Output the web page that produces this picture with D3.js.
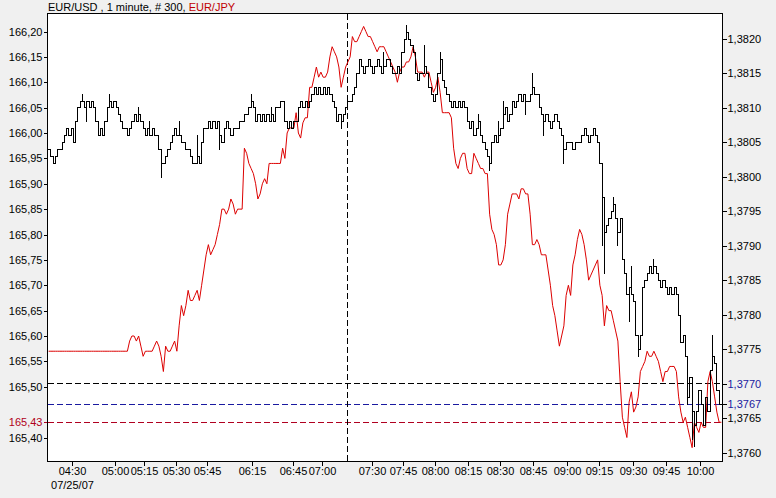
<!DOCTYPE html>
<html><head><meta charset="utf-8">
<script src="https://cdn.jsdelivr.net/npm/d3@7"></script>
<style>
html,body{margin:0;padding:0;background:#f0f0f0;}
svg{display:block;font-family:Arial,"Liberation Sans",sans-serif;font-size:11px;}
</style></head>
<body><svg id="chart" width="776" height="498"></svg>
<script>
// EUR/USD 1-minute closes (right axis), 300 bars
const usdClose = [
1.3804,1.3803,1.3802,1.3803,1.3804,1.3804,1.3805,1.3806,1.3807,1.3806,
1.3807,1.3805,1.3808,1.3810,1.3811,1.3811,1.3810,1.3811,1.3810,1.3811,
1.3810,1.3808,1.3806,1.3807,1.3806,1.3808,1.3810,1.3811,1.3810,1.3811,
1.3810,1.3809,1.3808,1.3807,1.3807,1.3806,1.3807,1.3808,1.3809,1.3808,
1.3809,1.3808,1.3807,1.3806,1.3807,1.3806,1.3807,1.3806,1.3806,1.3804,
1.3802,1.3802,1.3803,1.3804,1.3805,1.3806,1.3807,1.3806,1.3806,1.3805,
1.3805,1.3804,1.3804,1.3803,1.3802,1.3802,1.3803,1.3802,1.3805,1.3807,
1.3807,1.3808,1.3807,1.3808,1.3807,1.3808,1.3806,1.3805,1.3807,1.3808,
1.3807,1.3806,1.3807,1.3807,1.3807,1.3808,1.3808,1.3809,1.3809,1.3810,
1.3811,1.3810,1.3808,1.3809,1.3808,1.3809,1.3808,1.3809,1.3808,1.3809,
1.3808,1.3810,1.3810,1.3811,1.3811,1.3808,1.3807,1.3808,1.3807,1.3808,
1.3808,1.3810,1.3811,1.3810,1.3811,1.3810,1.3811,1.3812,1.3813,1.3812,
1.3813,1.3812,1.3813,1.3812,1.3813,1.3812,1.3811,1.3810,1.3808,1.3809,
1.3808,1.3809,1.3810,1.3811,1.3811,1.3812,1.3813,1.3815,1.3817,1.3816,
1.3815,1.3816,1.3817,1.3816,1.3815,1.3816,1.3817,1.3816,1.3815,1.3816,
1.3817,1.3817,1.3816,1.3815,1.3815,1.3816,1.3815,1.3818,1.3820,1.3821,
1.3820,1.3819,1.3818,1.3815,1.3814,1.3815,1.3815,1.3816,1.3815,1.3813,
1.3812,1.3811,1.3812,1.3815,1.3817,1.3814,1.3813,1.3812,1.3811,1.3810,
1.3811,1.3810,1.3811,1.3810,1.3811,1.3810,1.3808,1.3807,1.3808,1.3806,
1.3807,1.3808,1.3806,1.3805,1.3804,1.3803,1.3802,1.3805,1.3806,1.3805,
1.3806,1.3807,1.3809,1.3810,1.3808,1.3809,1.3811,1.3810,1.3811,1.3812,
1.3811,1.3812,1.3811,1.3811,1.3812,1.3813,1.3812,1.3812,1.3810,1.3809,
1.3808,1.3809,1.3808,1.3807,1.3808,1.3809,1.3808,1.3807,1.3806,1.3804,
1.3805,1.3805,1.3805,1.3804,1.3805,1.3805,1.3805,1.3806,1.3807,1.3806,
1.3805,1.3806,1.3807,1.3806,1.3805,1.3802,1.3797,1.3792,1.3793,1.3794,
1.3795,1.3796,1.3794,1.3792,1.3794,1.3788,1.3786,1.3783,1.3784,1.3783,
1.3782,1.3777,1.3775,1.3777,1.3784,1.3785,1.3786,1.3787,1.3786,1.3787,
1.3786,1.3785,1.3784,1.3785,1.3784,1.3783,1.3784,1.3783,1.3784,1.3783,
1.3780,1.3776,1.3777,1.3774,1.3768,1.3771,1.3766,1.3764,1.3766,1.3769,
1.3767,1.3764,1.3768,1.3766,1.3772,1.3774,1.3773,1.3769,1.3767,1.3767
];
// EUR/USD bars whose high/low reach beyond open/close: [bar, extreme]
const usdWicks = [
[15,1.3812],[17,1.3808],[27,1.3812],[40,1.3810],[45,1.3808],[50,1.3800],[58,1.3808],
[66,1.3806],[76,1.3804],[90,1.3812],[99,1.3810],[130,1.3807],[149,1.3818],[159,1.3822],
[167,1.3819],[174,1.3818],[191,1.3809],[196,1.3801],[200,1.3808],[202,1.3811],[212,1.3809],
[215,1.3815],[220,1.3806],[229,1.3802],[246,1.3790],[247,1.3786],[251,1.3797],[253,1.3790],
[258,1.3779],[259,1.3787],[262,1.3774],[269,1.3788],[284,1.3767],[286,1.3762],[287,1.3761],
[295,1.3777]
];
// EUR/JPY 1-minute closes (left axis), 300 bars
const jpyClose = [
165.57,165.57,165.57,165.57,165.57,165.57,165.57,165.57,165.57,165.57,
165.57,165.57,165.57,165.57,165.57,165.57,165.57,165.57,165.57,165.57,
165.57,165.57,165.57,165.57,165.57,165.57,165.57,165.57,165.57,165.57,
165.57,165.57,165.57,165.57,165.57,165.57,165.59,165.60,165.60,165.59,
165.60,165.58,165.56,165.57,165.57,165.57,165.57,165.58,165.59,165.58,
165.56,165.53,165.58,165.57,165.57,165.58,165.59,165.57,165.62,165.66,
165.64,165.66,165.69,165.67,165.67,165.68,165.69,165.67,165.70,165.73,
165.76,165.78,165.76,165.77,165.78,165.80,165.82,165.85,165.85,165.84,
165.85,165.87,165.86,165.84,165.85,165.85,165.85,165.97,165.96,165.94,
165.93,165.92,165.90,165.87,165.88,165.90,165.91,165.90,165.94,165.94,
165.94,165.94,165.94,165.94,165.97,165.95,166.00,166.01,166.01,166.01,
166.04,166.00,165.99,166.02,166.03,166.03,166.09,166.09,166.11,166.13,
166.11,166.12,166.11,166.11,166.12,166.15,166.17,166.16,166.15,166.13,
166.09,166.11,166.13,166.14,166.15,166.19,166.18,166.18,166.19,166.20,
166.21,166.20,166.19,166.19,166.18,166.17,166.16,166.17,166.17,166.17,
166.16,166.15,166.14,166.13,166.12,166.10,166.12,166.13,166.13,166.14,
166.14,166.15,166.17,166.15,166.12,166.12,166.12,166.11,166.12,166.12,
166.10,166.08,166.09,166.11,166.08,166.04,166.04,166.04,166.04,166.03,
165.97,165.94,165.93,165.95,165.96,165.96,165.93,165.92,165.92,165.96,
165.95,165.94,165.93,165.93,165.92,165.92,165.84,165.81,165.80,165.78,
165.74,165.74,165.75,165.78,165.84,165.86,165.88,165.88,165.88,165.87,
165.89,165.89,165.88,165.88,165.84,165.78,165.78,165.79,165.78,165.76,
165.76,165.76,165.73,165.70,165.66,165.64,165.61,165.58,165.60,165.62,
165.68,165.70,165.68,165.74,165.76,165.79,165.81,165.80,165.78,165.75,
165.71,165.72,165.73,165.74,165.75,165.70,165.68,165.62,165.66,165.65,
165.65,165.63,165.61,165.59,165.51,165.44,165.42,165.40,165.47,165.49,
165.45,165.46,165.48,165.53,165.54,165.55,165.57,165.56,165.56,165.57,
165.56,165.55,165.53,165.51,165.53,165.53,165.54,165.54,165.54,165.53,
165.48,165.45,165.43,165.44,165.42,165.40,165.38,165.43,165.42,165.41,
165.43,165.42,165.42,165.51,165.53,165.51,165.48,165.45,165.43,165.43
];
const timeTickBars = [11,30,43,57,71,91,109,122,144,158,172,187,201,216,231,245,260,275,290];
const timeTickLabels = ["04:30","05:00","05:15","05:30","05:45","06:15","06:45","07:00","07:30","07:45","08:00","08:15","08:30","08:45","09:00","09:15","09:30","09:45","10:00"];
const dateLabel = "07/25/07";
const leftTicks = [165.40,165.50,165.55,165.60,165.65,165.70,165.75,165.80,165.85,165.90,165.95,166.00,166.05,166.10,166.15,166.20];
const rightTicks = [1.3760,1.3765,1.3770,1.3775,1.3780,1.3785,1.3790,1.3795,1.3800,1.3805,1.3810,1.3815,1.3820];
const jpyLast = 165.43;
const usdLast = 1.3767;
const usdLevel = 1.3770;
const sessionBar = 133;

const svg = d3.select("#chart");
const L = 47.5, R = 722.5, T = 13.5, B = 461.5;
const x = d3.scaleLinear().domain([0, 300]).range([L, R]);
const yL = d3.scaleLinear().domain([165.40, 166.20]).range([437.5, 31.5]);
const yR = d3.scaleLinear().domain([1.3760, 1.3820]).range([452.5, 38.5]);

svg.append("rect").attr("width",776).attr("height",498).attr("fill","#f0f0f0");
svg.append("rect").attr("x",L).attr("y",T).attr("width",R-L).attr("height",B-T).attr("fill","#fff");

// title
const title = svg.append("text").attr("x",48).attr("y",11).attr("fill","#000");
title.append("tspan").text("EUR/USD , 1 minute, # 300, ");
title.append("tspan").attr("fill","#c00000").text("EUR/JPY");

// axes
const comma = f => v => d3.format(f)(v).replace(".", ",");
const gL = svg.append("g").attr("transform",`translate(${L},0)`)
  .call(d3.axisLeft(yL).tickValues(leftTicks).tickFormat(comma(".2f")).tickSize(4).tickSizeOuter(0).tickPadding(1));
const gL2 = svg.append("g").attr("transform",`translate(${L},0)`)
  .call(d3.axisLeft(yL).tickValues([jpyLast]).tickFormat(comma(".2f")).tickSize(4).tickSizeOuter(0).tickPadding(1));
gL2.selectAll("text").attr("fill","#b00020");
gL2.selectAll("line").attr("stroke","#b00020");
const gR = svg.append("g").attr("transform",`translate(${R},0)`)
  .call(d3.axisRight(yR).tickValues(rightTicks).tickFormat(comma(".4f")).tickSize(4).tickSizeOuter(0).tickPadding(1));
gR.selectAll(".tick").filter(d => Math.abs(d-usdLevel)<1e-7).select("text").attr("fill","#1a1aa0");
const gR2 = svg.append("g").attr("transform",`translate(${R},0)`)
  .call(d3.axisRight(yR).tickValues([usdLast]).tickFormat(comma(".4f")).tickSize(4).tickSizeOuter(0).tickPadding(1));
gR2.selectAll("text").attr("fill","#1a1aa0");
const gB = svg.append("g").attr("transform",`translate(0,${B})`)
  .call(d3.axisBottom(x).tickValues(timeTickBars).tickFormat((d,i)=>timeTickLabels[i]).tickSize(4).tickSizeOuter(0).tickPadding(2));
gB.selectAll(".tick").attr("transform", d => `translate(${Math.round(x(d))+0.5},0)`);
[gL,gL2,gR,gR2,gB].forEach(g => {
  g.select(".domain").remove();
  g.selectAll("text").style("font-family","Arial, 'Liberation Sans', sans-serif").style("font-size","11px");
  g.selectAll("line").attr("shape-rendering","crispEdges");
});
svg.append("text").attr("x", Math.round(x(timeTickBars[0]))+0.5).attr("y",489).attr("text-anchor","middle").text(dateLabel);

// clip
svg.append("clipPath").attr("id","clip").append("rect").attr("x",L).attr("y",T).attr("width",R-L).attr("height",B-T);
const plot = svg.append("g").attr("clip-path","url(#clip)");

// reference lines
const py = v => Math.round(v) + 0.5;
plot.append("line").attr("x1",L).attr("x2",R).attr("y1",py(yR(usdLevel))).attr("y2",py(yR(usdLevel)))
  .attr("stroke","#000").attr("stroke-dasharray","6,3").attr("shape-rendering","crispEdges");
plot.append("line").attr("x1",L).attr("x2",R).attr("y1",py(yR(usdLast))).attr("y2",py(yR(usdLast)))
  .attr("stroke","#1a1aa0").attr("stroke-dasharray","6,3").attr("shape-rendering","crispEdges");
plot.append("line").attr("x1",L).attr("x2",R).attr("y1",py(yL(jpyLast))).attr("y2",py(yL(jpyLast)))
  .attr("stroke","#b00020").attr("stroke-dasharray","6,3").attr("shape-rendering","crispEdges");
const sx = Math.floor(x(sessionBar+0.5)) + 0.5;
plot.append("line").attr("x1",sx).attr("x2",sx).attr("y1",T).attr("y2",B)
  .attr("stroke","#000").attr("stroke-dasharray","6,3").attr("shape-rendering","crispEdges");

// EUR/JPY line
plot.append("path").datum(jpyClose)
  .attr("d", d3.line().x((d,i)=>x(i+0.5)).y(d=>yL(d)))
  .attr("fill","none").attr("stroke","#dc0000").attr("stroke-width",1);

// EUR/USD OHLC step bars
const wick = new Map(usdWicks.map(d=>[d[0],d[1]]));
let p = "";
usdClose.forEach((c,i) => {
  const o = i === 0 ? c : usdClose[i-1];
  const w = wick.has(i) ? wick.get(i) : c;
  const hi = Math.max(o,c,w), lo = Math.min(o,c,w);
  const xl = Math.round(x(i)), xr = Math.round(x(i+1)), xc = Math.floor(x(i+0.5));
  const yh = Math.round(yR(hi)), yl = Math.round(yR(lo)), yo = Math.round(yR(o)), yc = Math.round(yR(c));
  p += `M${xc+0.5},${yh}V${yl+1}`;
  p += `M${xl},${yo+0.5}H${xc+1}`;
  p += `M${xc},${yc+0.5}H${xr}`;
});
plot.append("path").attr("d",p).attr("fill","none").attr("stroke","#000").attr("stroke-width",1).attr("shape-rendering","crispEdges");

// frame
svg.append("rect").attr("x",L).attr("y",T).attr("width",R-L).attr("height",B-T)
  .attr("fill","none").attr("stroke","#000").attr("shape-rendering","crispEdges");
</script></body></html>
